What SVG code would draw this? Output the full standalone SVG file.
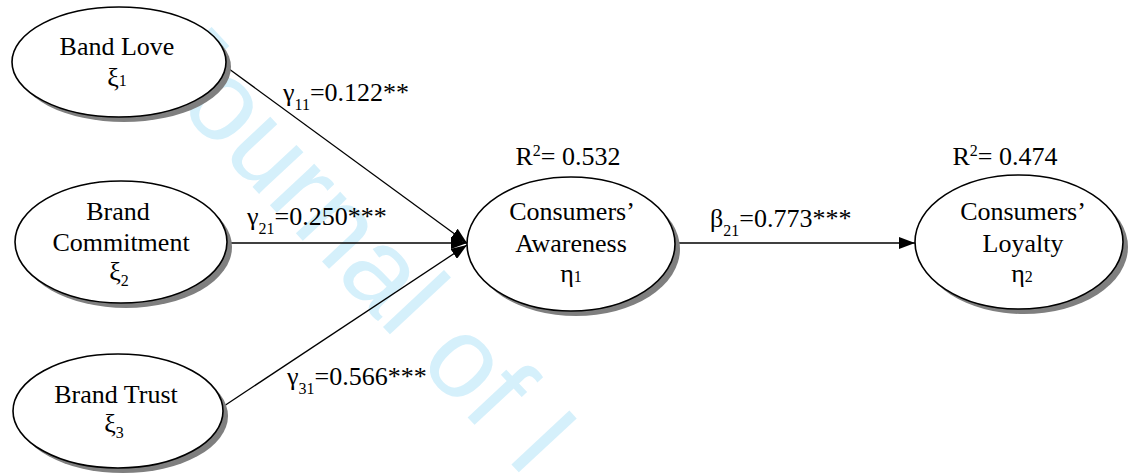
<svg xmlns="http://www.w3.org/2000/svg" width="1129" height="475" viewBox="0 0 1129 475">
<style>
.wm{font-family:"Liberation Sans",Arial,sans-serif;font-size:115px;fill:#d5f0fb}
.shadow{fill:#7f7f7f;stroke:none}
.node{fill:#fff;stroke:#000;stroke-width:1.6}
.t{font-family:"Liberation Serif","Times New Roman",serif;font-size:26px;fill:#000}
.c{text-anchor:middle}
.sub{font-size:16px}
.edge{stroke:#000;stroke-width:1.3;fill:none;marker-end:url(#ah)}
</style>
<defs>
<marker id="ah" markerUnits="userSpaceOnUse" markerWidth="16" markerHeight="12" viewBox="0 0 16 12" refX="16" refY="6" orient="auto">
<path d="M0,0 L16,6 L0,12 z" fill="#000"/>
</marker>
</defs>
<rect width="1129" height="475" fill="#fff"/>
<text class="wm" transform="translate(138,64) rotate(47)">Journal of I</text>
<g id="connectors">
<line class="edge" x1="225" y1="66" x2="467" y2="243"/>
<line class="edge" x1="227" y1="243" x2="467" y2="243"/>
<line class="edge" x1="221" y1="408" x2="467" y2="245"/>
<line class="edge" x1="677" y1="243" x2="915" y2="243"/>
<text class="t" x="283" y="101">γ<tspan class="sub" dy="9">11</tspan><tspan dy="-9">=0.122**</tspan></text>
<text class="t" x="247" y="225">γ<tspan class="sub" dy="9">21</tspan><tspan dy="-9">=0.250***</tspan></text>
<text class="t" x="287" y="385">γ<tspan class="sub" dy="9">31</tspan><tspan dy="-9">=0.566***</tspan></text>
<text class="t" x="710" y="227">β<tspan class="sub" dy="9">21</tspan><tspan dy="-9">=0.773***</tspan></text>
</g>
<g id="band-love">
<ellipse class="shadow" cx="124" cy="67" rx="107" ry="55"/>
<ellipse class="node" cx="119" cy="62" rx="107" ry="55"/>
<text class="t c" x="117" y="55">Band Love</text>
<text class="t c" x="117" y="86">ξ<tspan class="sub">1</tspan></text>
</g>
<g id="brand-commitment">
<ellipse class="shadow" cx="126" cy="247" rx="106" ry="61"/>
<ellipse class="node" cx="121" cy="242" rx="106" ry="61"/>
<text class="t c" x="118" y="220">Brand</text>
<text class="t c" x="121" y="251">Commitment</text>
<text class="t c" x="119" y="280">ξ<tspan class="sub" dy="6">2</tspan></text>
</g>
<g id="brand-trust">
<ellipse class="shadow" cx="123" cy="416" rx="105" ry="57"/>
<ellipse class="node" cx="118" cy="411" rx="105" ry="57"/>
<text class="t c" x="116" y="403">Brand Trust</text>
<text class="t c" x="114" y="432">ξ<tspan class="sub" dy="6">3</tspan></text>
</g>
<g id="consumers-awareness">
<ellipse class="shadow" cx="576" cy="249" rx="104" ry="67"/>
<ellipse class="node" cx="571" cy="244" rx="104" ry="67"/>
<text class="t c" x="568" y="165">R<tspan class="sub" dy="-9">2</tspan><tspan dy="9">= 0.532</tspan></text>
<text class="t c" x="572" y="220">Consumers’</text>
<text class="t c" x="571" y="252">Awareness</text>
<text class="t c" x="571" y="282">η<tspan class="sub">1</tspan></text>
</g>
<g id="consumers-loyalty">
<ellipse class="shadow" cx="1024" cy="247" rx="104" ry="67"/>
<ellipse class="node" cx="1019" cy="242" rx="104" ry="67"/>
<text class="t c" x="1005" y="165">R<tspan class="sub" dy="-9">2</tspan><tspan dy="9">= 0.474</tspan></text>
<text class="t c" x="1023" y="220">Consumers’</text>
<text class="t c" x="1023" y="252">Loyalty</text>
<text class="t c" x="1022" y="282">η<tspan class="sub">2</tspan></text>
</g>
</svg>
